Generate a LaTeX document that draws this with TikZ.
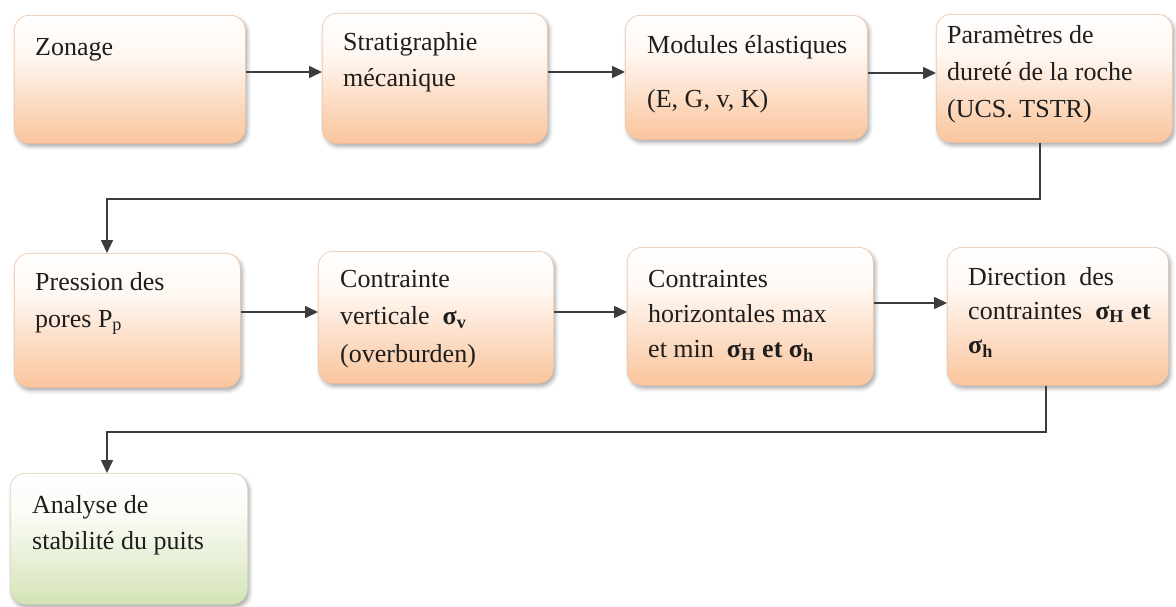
\documentclass[tikz,border=0pt]{standalone}
\usepackage{fontspec}
\setmainfont{Liberation Serif}
\usetikzlibrary{arrows.meta,shadows.blur}
\definecolor{peachB}{HTML}{FAC59D}
\definecolor{peachM}{HTML}{FCDAC0}
\definecolor{peachT}{HTML}{FFF8F3}
\definecolor{peachE}{HTML}{F0C3A2}
\definecolor{greenB}{HTML}{D4E3B6}
\definecolor{greenM}{HTML}{E5EED3}
\definecolor{greenT}{HTML}{FAFCF6}
\definecolor{greenE}{HTML}{C9D9B0}
\definecolor{linec}{HTML}{3C3C3C}
\definecolor{textc}{HTML}{1E1E1E}
\pgfdeclareverticalshading{peachshade}{100bp}{color(0bp)=(peachB); color(25bp)=(peachB); color(40bp)=(peachM); color(60bp)=(peachT); color(75bp)=(white); color(100bp)=(white)}
\pgfdeclareverticalshading{greenshade}{100bp}{color(0bp)=(greenB); color(25bp)=(greenB); color(40bp)=(greenM); color(60bp)=(greenT); color(75bp)=(white); color(100bp)=(white)}
\tikzset{
  box/.style={anchor=north west, inner sep=0pt, rounded corners=15pt, draw=peachE, line width=0.6pt, shading=peachshade,
    blur shadow={shadow xshift=2pt, shadow yshift=-3pt, shadow blur radius=4pt, shadow opacity=35}},
  gbox/.style={box, draw=greenE, shading=greenshade},
  txt/.style={anchor=north west, inner sep=0pt, align=left, text=textc, font=\fontsize{26}{36}\selectfont},
  arr/.style={draw=linec, line width=1.6pt, -{Triangle[length=13pt,width=12pt]}}
}
\begin{document}
\begin{tikzpicture}[x=1pt,y=-1pt]
\useasboundingbox (0,0) rectangle (1176,606);
% boxes
\node[box, minimum width=231pt, minimum height=128pt] (b1) at (14,15) {};
\node[box, minimum width=225pt, minimum height=130pt] (b2) at (322,13) {};
\node[box, minimum width=242pt, minimum height=124pt] (b3) at (625,15) {};
\node[box, minimum width=236pt, minimum height=128pt] (b4) at (936,14) {};
\node[box, minimum width=226pt, minimum height=134pt] (b5) at (14,253) {};
\node[box, minimum width=235pt, minimum height=132pt] (b6) at (318,251) {};
\node[box, minimum width=246pt, minimum height=138pt] (b7) at (627,247) {};
\node[box, minimum width=221pt, minimum height=138pt] (b8) at (947,247) {};
\node[gbox, minimum width=237pt, minimum height=131pt] (b9) at (10,473) {};
% texts
\node[txt] (l1) at (35,37) {\rule{0pt}{18pt}Zonage};
\node[txt] (l2) at (343,32) {\rule{0pt}{18pt}Stratigraphie\\mécanique};
\node[txt] (l3) at (647,35) {\rule{0pt}{18pt}Modules élastiques\\[18pt](E, G, v, K)};
\node[txt, font=\fontsize{26}{37}\selectfont] (l4) at (947,25) {\rule{0pt}{18pt}Paramètres de\\dureté de la roche\\(UCS. TSTR)};
\node[txt, font=\fontsize{26}{37}\selectfont] (l5) at (35,272) {\rule{0pt}{18pt}Pression des\\pores P\textsubscript{p}};
\node[txt, font=\fontsize{26}{37.5}\selectfont] (l6) at (340,269) {\rule{0pt}{18pt}Contrainte\\verticale \ \textbf{σ\textsubscript{v}}\\(overburden)};
\node[txt, font=\fontsize{26}{35}\selectfont] (l7) at (648,269) {\rule{0pt}{18pt}Contraintes\\horizontales max\\et min \ \textbf{σ\textsubscript{H} et σ\textsubscript{h}}};
\node[txt, font=\fontsize{26}{34}\selectfont] (l8) at (968,267) {\rule{0pt}{18pt}Direction \ des\\contraintes \ \textbf{σ\textsubscript{H} et}\\\textbf{σ\textsubscript{h}}};
\node[txt] (l9) at (32,495) {\rule{0pt}{18pt}Analyse de\\stabilité du puits};
% helper coordinates
\coordinate (r1) at (0,72);
\coordinate (r2) at (0,73);
\coordinate (r3) at (0,312);
\coordinate (r4) at (0,303);
\coordinate (k1) at (1040,199);
\coordinate (k2) at (107,199);
\coordinate (k3) at (1046,432);
\coordinate (k4) at (107,432);
% connectors
\draw[arr] (b1.east |- r1) -- (b2.west |- r1);
\draw[arr] (b2.east |- r1) -- (b3.west |- r1);
\draw[arr] (b3.east |- r2) -- (b4.west |- r2);
\draw[arr] (b4.south -| k1) -- (k1) -- (k2) -- (b5.north -| k2);
\draw[arr] (b5.east |- r3) -- (b6.west |- r3);
\draw[arr] (b6.east |- r3) -- (b7.west |- r3);
\draw[arr] (b7.east |- r4) -- (b8.west |- r4);
\draw[arr] (b8.south -| k3) -- (k3) -- (k4) -- (b9.north -| k4);
\end{tikzpicture}
\end{document}
